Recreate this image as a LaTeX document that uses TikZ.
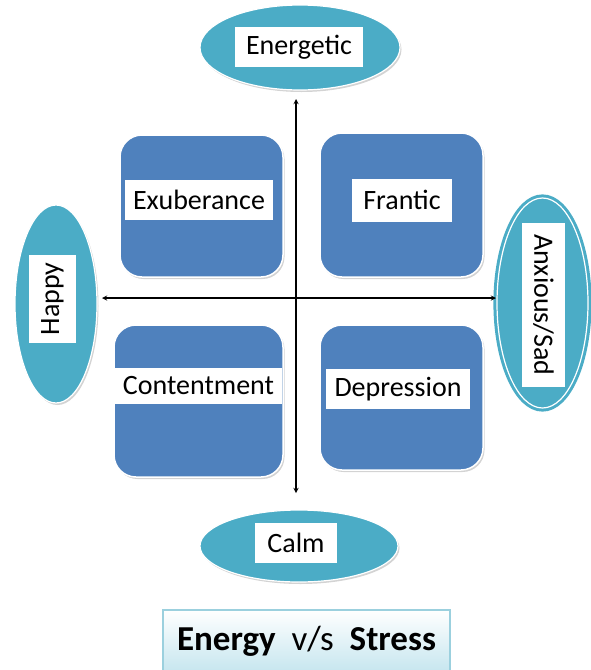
\documentclass[tikz,border=0pt]{standalone}
\usepackage{fontspec}
\setmainfont{Carlito}
\usepackage{xcolor}
\usetikzlibrary{shapes, arrows, shadows, positioning, calc}

\definecolor{moodblue}{HTML}{4F81BD}
\definecolor{poleteal}{HTML}{4BACC6}
\definecolor{titleline}{HTML}{9BD0DE}
\definecolor{titlefill}{HTML}{C6E6EF}

\begin{document}
\begin{tikzpicture}[x=1pt,y=-1pt,>=stealth,
    quad/.style={draw=white, line width=1.5pt, fill=moodblue, rounded corners=22pt,
        drop shadow={opacity=0.35, shadow xshift=1.5pt, shadow yshift=-2pt}},
    pole/.style={ellipse, draw=white, line width=1.2pt, fill=poleteal,
        drop shadow={opacity=0.35, shadow xshift=1.5pt, shadow yshift=-2pt}},
    tag/.style={fill=white, inner sep=0pt, font=\fontsize{28}{30}\selectfont}]
    \useasboundingbox (0,0) rectangle (590,670);

    % four quadrants
    \node[quad, minimum width=163, minimum height=142] (exub) at (201.5,206) {};
    \node[quad, minimum width=163, minimum height=144] (fran) at (401.5,205) {};
    \node[quad, minimum width=169, minimum height=152] (cont) at (198.5,401) {};
    \node[quad, minimum width=163, minimum height=145] (depr) at (401.5,397.5) {};

    \node[tag, minimum width=148, minimum height=40] (exubtxt) at (199,200) {Exuberance};
    \node[tag, minimum width=100, minimum height=43] (frantxt) at (402,200) {Frantic};
    \node[tag, minimum width=167, minimum height=36] (conttxt) at (198.5,386) {Contentment};
    \node[tag, minimum width=144, minimum height=40] (deprtxt) at (398,389) {Depression};

    % the four poles
    \node[pole, minimum width=200, minimum height=85] (ener) at (300,47.5) {};
    \node[pole, minimum width=198, minimum height=72] (calm) at (299,546) {};
    \node[pole, minimum width=82, minimum height=198] (happ) at (56,304) {};
    \node[pole, minimum width=91, minimum height=210, draw=poleteal, line width=3pt,
        double=white, double distance=1.2pt] (anxi) at (542.5,303) {};

    \node[tag, minimum width=128, minimum height=40] (enertxt) at (299,47) {Energetic};
    \node[tag, minimum width=82, minimum height=40] (calmtxt) at (296,543) {Calm};
    \node[tag, rotate=90, minimum width=88, minimum height=47] (happtxt) at (52.5,299) {Happy};
    \node[tag, rotate=-90, minimum width=164, minimum height=43] (anxitxt) at (543.5,305) {Anxious/Sad};

    % axes
    \coordinate (north) at (296,99);
    \coordinate (south) at (296,493);
    \coordinate (west) at (102,298);
    \coordinate (east) at (496,298);
    \draw[<->, line width=1.3pt] (south) -- (north);
    \draw[<->, line width=1.3pt] (west) -- (east);

    % title
    \node[draw=titleline, line width=1.5pt, top color=white, bottom color=titlefill,
        minimum width=287, minimum height=62, font=\fontsize{35}{38}\selectfont] (title)
        at (306.5,641) {\textbf{Energy}~~v/s~~\textbf{Stress}};
\end{tikzpicture}
\end{document}
